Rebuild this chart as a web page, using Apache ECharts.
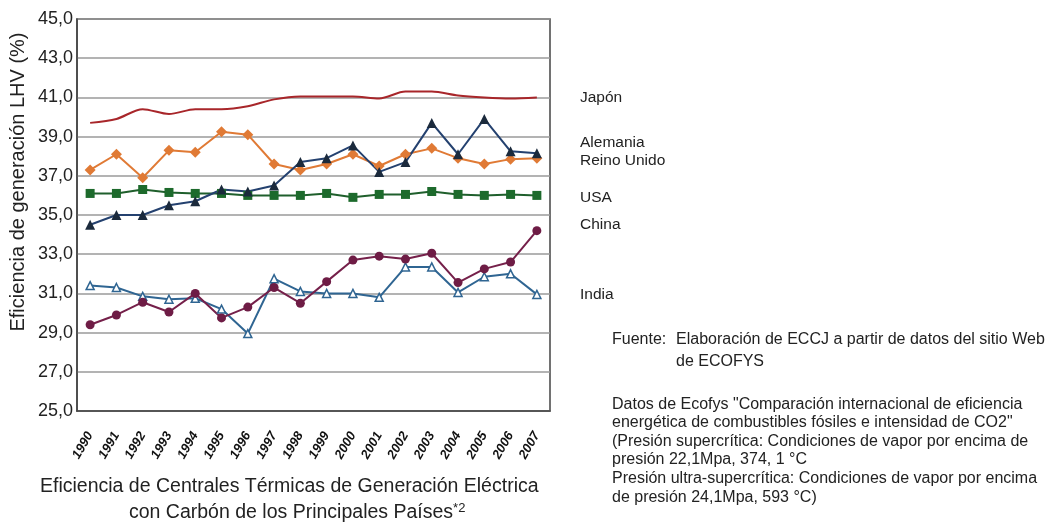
<!DOCTYPE html>
<html>
<head>
<meta charset="utf-8">
<script src="https://cdn.jsdelivr.net/npm/echarts@6/dist/echarts.min.js"></script>
<style>
  html, body { margin: 0; padding: 0; background: #fff; }
  #chart { width: 1048px; height: 527px; }
</style>
</head>
<body>
<div id="chart"></div>
<script>
const years = ['1990', '1991', '1992', '1993', '1994', '1995', '1996', '1997', '1998',
  '1999', '2000', '2001', '2002', '2003', '2004', '2005', '2006', '2007'];

const japon = [39.7, 39.9, 40.4, 40.15, 40.4, 40.4, 40.55, 40.9, 41.05, 41.05, 41.05, 40.95, 41.3, 41.3, 41.1, 41.0, 40.95, 41.0];
const alemania = [34.5, 35.0, 35.0, 35.5, 35.7, 36.3, 36.2, 36.5, 37.7, 37.9, 38.55, 37.2, 37.7, 39.7, 38.1, 39.9, 38.25, 38.15];
const reinoUnido = [37.3, 38.1, 36.9, 38.3, 38.2, 39.25, 39.1, 37.6, 37.3, 37.6, 38.1, 37.5, 38.1, 38.4, 37.9, 37.6, 37.85, 37.9];
const usa = [36.1, 36.1, 36.3, 36.15, 36.1, 36.1, 36.0, 36.0, 36.0, 36.1, 35.9, 36.05, 36.05, 36.2, 36.05, 36.0, 36.05, 36.0];
const china = [29.4, 29.9, 30.55, 30.05, 31.0, 29.75, 30.3, 31.3, 30.5, 31.6, 32.7, 32.9, 32.75, 33.05, 31.55, 32.25, 32.6, 34.2];
const india = [31.4, 31.3, 30.85, 30.7, 30.75, 30.2, 28.95, 31.75, 31.1, 31.0, 31.0, 30.8, 32.35, 32.35, 31.05, 31.85, 32.0, 30.95];

const yTicks = { min: 25, max: 45, step: 2 };
const countryLabels = ['Japón', 'Alemania', 'Reino Unido', 'USA', 'China', 'India'];

const chart = echarts.init(document.getElementById('chart'));
const font = 'Liberation Sans, Arial, sans-serif';

function lineSeries(name, data, color, symbol, symbolSize, markerColor, fill) {
  return {
    name,
    type: 'line',
    data,
    symbol,
    symbolSize,
    showSymbol: symbol !== 'none',
    lineStyle: { color, width: 2 },
    itemStyle: { color: fill || markerColor, borderColor: markerColor, borderWidth: fill ? 1.5 : 0 },
    emphasis: { disabled: true },
    z: 3
  };
}

// textos a la derecha de la gráfica
const rightTexts = [
  [580, 97], [580, 142], [580, 160], [580, 197], [580, 224], [580, 294]
].map((p, i) => ({
  type: 'text', left: p[0], top: p[1] - 7,
  style: { text: countryLabels[i], font: '15.5px ' + font, fill: '#222' }
}));

const notes = [
  { x: 612, y: 332, t: 'Fuente:' },
  { x: 676, y: 332, t: 'Elaboración de ECCJ a partir de datos del sitio Web' },
  { x: 676, y: 354, t: 'de ECOFYS' },
  { x: 612, y: 397, t: 'Datos de Ecofys "Comparación internacional de eficiencia' },
  { x: 612, y: 415, t: 'energética de combustibles fósiles e intensidad de CO2"' },
  { x: 612, y: 434, t: '(Presión supercrítica: Condiciones de vapor por encima de' },
  { x: 612, y: 452, t: 'presión 22,1Mpa, 374, 1 °C' },
  { x: 612, y: 471, t: 'Presión ultra-supercrítica: Condiciones de vapor por encima' },
  { x: 612, y: 490, t: 'de presión 24,1Mpa, 593 °C)' }
].map(n => ({
  type: 'text', left: n.x, top: n.y,
  style: { text: n.t, font: '16px ' + font, fill: '#222' }
}));

const option = {
  animation: false,
  backgroundColor: '#fff',
  grid: {
    left: 77, right: 498, top: 19, bottom: 116,
    show: true, borderColor: '#444', borderWidth: 1.5
  },
  xAxis: {
    type: 'category',
    data: years,
    boundaryGap: true,
    axisLine: { lineStyle: { color: '#444', width: 1.5 } },
    axisTick: { inside: true, length: 4, lineStyle: { color: '#aaa' } },
    axisLabel: {
      rotate: 60, margin: 22, interval: 0,
      fontFamily: font, fontSize: 13, fontStyle: 'italic', fontWeight: 'bold', color: '#111'
    }
  },
  yAxis: {
    type: 'value',
    min: yTicks.min, max: yTicks.max, interval: yTicks.step,
    axisLine: { show: true, lineStyle: { color: '#444', width: 1.5 } },
    axisTick: { show: false },
    axisLabel: {
      margin: 4, fontFamily: font, fontSize: 18, color: '#222',
      formatter: v => v.toFixed(1).replace('.', ',')
    },
    splitLine: { lineStyle: { color: '#9a9a9a', width: 1.5 } }
  },
  series: [
    Object.assign(lineSeries('Japón', japon, '#a8262a', 'none', 0, '#a8262a'), { smooth: 0.3 }),
    lineSeries('Reino Unido', reinoUnido, '#e07a35', 'diamond', 11, '#e07a35'),
    lineSeries('USA', usa, '#1f5f2c', 'rect', 9, '#1d6a2c'),
    lineSeries('Alemania', alemania, '#24416f', 'triangle', 10, '#1b2a3c'),
    lineSeries('India', india, '#2f6592', 'triangle', 8, '#2f6592', '#ffffff'),
    lineSeries('China', china, '#75204a', 'circle', 9, '#6e1c45')
  ],
  graphic: [
    ...rightTexts,
    ...notes,
    {
      type: 'text', x: 18, y: 182, rotation: Math.PI / 2,
      style: {
        text: 'Eficiencia de generación LHV (%)',
        font: '20px ' + font, fill: '#222', align: 'center', verticalAlign: 'middle'
      }
    },
    {
      type: 'text', left: 40, top: 477,
      style: {
        text: 'Eficiencia de Centrales Térmicas de Generación Eléctrica',
        font: '19.5px ' + font, fill: '#222'
      }
    },
    {
      type: 'text', left: 129, top: 502,
      style: {
        text: 'con Carbón de los Principales Países{sup|*2}',
        font: '19.5px ' + font, fill: '#222',
        rich: { sup: { fontSize: 13, verticalAlign: 'top', padding: [0, 0, 9, 0], fontFamily: font, fill: '#222' } }
      }
    }
  ]
};

chart.setOption(option);
</script>
</body>
</html>
